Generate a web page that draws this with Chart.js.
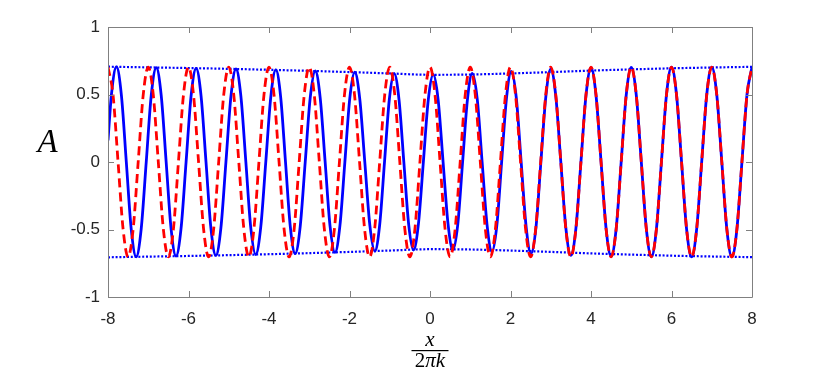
<!DOCTYPE html>
<html>
<head>
<meta charset="utf-8">
<script src="https://cdn.jsdelivr.net/npm/chart.js@4.4.1/dist/chart.umd.min.js"></script>
<style>
  html, body { margin: 0; padding: 0; background: #ffffff; }
  #c { display: block; }
</style>
</head>
<body>
<canvas id="c" width="830" height="369"></canvas>
<script>
// ---- data ----
// x tick labels and y tick labels
const xTicks = [-8, -6, -4, -2, 0, 2, 4, 6, 8];
const yTicks = [-1, -0.5, 0, 0.5, 1];

// blue solid wave: sample points (extrema, zero crossings, half-way points)
const blueX = [
  -8, -7.915, -7.79,
  -7.668, -7.545, -7.423, -7.30,
  -7.175, -7.05, -6.925, -6.80,
  -6.678, -6.555, -6.433, -6.31,
  -6.185, -6.06, -5.935, -5.81,
  -5.688, -5.565, -5.443, -5.32,
  -5.195, -5.07, -4.945, -4.82,
  -4.698, -4.575, -4.453, -4.33,
  -4.205, -4.08, -3.955, -3.83,
  -3.71, -3.59, -3.47, -3.35,
  -3.225, -3.10, -2.975, -2.85,
  -2.728, -2.605, -2.483, -2.36,
  -2.238, -2.115, -1.993, -1.87,
  -1.745, -1.62, -1.495, -1.37,
  -1.25, -1.13, -1.01, -0.89,
  -0.77, -0.65, -0.53, -0.41,
  -0.288, -0.165, -0.043, 0.08,
  0.203, 0.325, 0.448, 0.57,
  0.69, 0.81, 0.93, 1.05,
  1.173, 1.295, 1.418, 1.54,
  1.66, 1.78, 1.90, 2.02,
  2.143, 2.265, 2.388, 2.51,
  2.633, 2.755, 2.878, 3.00,
  3.125, 3.25, 3.375, 3.5,
  3.625, 3.75, 3.875, 4.0,
  4.125, 4.25, 4.375, 4.5,
  4.625, 4.75, 4.875, 5.0,
  5.125, 5.25, 5.375, 5.5,
  5.625, 5.75, 5.875, 6.0,
  6.125, 6.25, 6.375, 6.5,
  6.625, 6.75, 6.875, 7.0,
  7.125, 7.25, 7.375, 7.5,
  7.625, 7.75, 7.875, 8.0
];
const blueY = [
  0.16, 0.498, 0.704,
  0.497, 0, -0.497, -0.702,
  -0.495, 0, 0.495, 0.699,
  0.493, 0, -0.493, -0.697,
  -0.492, 0, 0.492, 0.694,
  0.490, 0, -0.490, -0.692,
  -0.488, 0, 0.488, 0.689,
  0.486, 0, -0.486, -0.685,
  -0.483, 0, 0.483, 0.682,
  0.481, 0, -0.481, -0.678,
  -0.478, 0, 0.478, 0.674,
  0.475, 0, -0.475, -0.670,
  -0.472, 0, 0.472, 0.665,
  0.468, 0, -0.468, -0.660,
  -0.465, 0, 0.465, 0.655,
  0.462, 0, -0.462, -0.652,
  -0.460, 0, 0.460, 0.648,
  0.459, 0, -0.459, -0.651,
  -0.462, 0, 0.462, 0.656,
  0.467, 0, -0.467, -0.664,
  -0.472, 0, 0.472, 0.672,
  0.478, 0, -0.478, -0.680,
  -0.484, 0, 0.484, 0.688,
  0.488, 0, -0.488, -0.692,
  -0.491, 0, 0.491, 0.697,
  0.493, 0, -0.493, -0.699,
  -0.495, 0, 0.495, 0.700,
  0.496, 0, -0.496, -0.702,
  -0.497, 0, 0.497, 0.703,
  0.497, 0, -0.497, -0.703,
  -0.497, 0, 0.497, 0.703,
  0.497, 0, -0.497, -0.703,
  -0.497, 0, 0.497, 0.703
];

// red dashed wave: sample points every eighth of a period
const redX = [
  -8, -7.875, -7.75, -7.625, -7.5, -7.375, -7.25, -7.125,
  -7, -6.875, -6.75, -6.625, -6.5, -6.375, -6.25, -6.125,
  -6, -5.875, -5.75, -5.625, -5.5, -5.375, -5.25, -5.125,
  -5, -4.875, -4.75, -4.625, -4.5, -4.375, -4.25, -4.125,
  -4, -3.875, -3.75, -3.625, -3.5, -3.375, -3.25, -3.125,
  -3, -2.875, -2.75, -2.625, -2.5, -2.375, -2.25, -2.125,
  -2, -1.875, -1.75, -1.625, -1.5, -1.375, -1.25, -1.125,
  -1, -0.875, -0.75, -0.625, -0.5, -0.375, -0.25, -0.125,
  0, 0.125, 0.25, 0.375, 0.5, 0.625, 0.75, 0.875,
  1, 1.125, 1.25, 1.375, 1.5, 1.625, 1.75, 1.875,
  2, 2.125, 2.25, 2.375, 2.5, 2.625, 2.75, 2.875,
  3, 3.125, 3.25, 3.375, 3.5, 3.625, 3.75, 3.875,
  4, 4.125, 4.25, 4.375, 4.5, 4.625, 4.75, 4.875,
  5, 5.125, 5.25, 5.375, 5.5, 5.625, 5.75, 5.875,
  6, 6.125, 6.25, 6.375, 6.5, 6.625, 6.75, 6.875,
  7, 7.125, 7.25, 7.375, 7.5, 7.625, 7.75, 7.875,
  8
];
const redY = [
  0.703, 0.497, 0, -0.497, -0.703, -0.497, 0, 0.497,
  0.703, 0.497, 0, -0.497, -0.703, -0.497, 0, 0.497,
  0.703, 0.497, 0, -0.497, -0.703, -0.497, 0, 0.497,
  0.703, 0.497, 0, -0.497, -0.703, -0.497, 0, 0.497,
  0.703, 0.497, 0, -0.497, -0.703, -0.497, 0, 0.497,
  0.703, 0.497, 0, -0.497, -0.703, -0.497, 0, 0.497,
  0.703, 0.497, 0, -0.497, -0.703, -0.497, 0, 0.497,
  0.703, 0.497, 0, -0.497, -0.703, -0.497, 0, 0.497,
  0.703, 0.497, 0, -0.497, -0.703, -0.497, 0, 0.497,
  0.703, 0.497, 0, -0.497, -0.703, -0.497, 0, 0.497,
  0.703, 0.497, 0, -0.497, -0.703, -0.497, 0, 0.497,
  0.703, 0.497, 0, -0.497, -0.703, -0.497, 0, 0.497,
  0.703, 0.497, 0, -0.497, -0.703, -0.497, 0, 0.497,
  0.703, 0.497, 0, -0.497, -0.703, -0.497, 0, 0.497,
  0.703, 0.497, 0, -0.497, -0.703, -0.497, 0, 0.497,
  0.703, 0.497, 0, -0.497, -0.703, -0.497, 0, 0.497,
  0.703
];

// blue dotted envelope
const envX = [-8, -7, -6, -5, -4, -3, -2, -1, 0, 1, 2, 3, 4, 5, 6, 7, 8];
const envTop = [0.706, 0.701, 0.696, 0.690, 0.683, 0.675, 0.666, 0.656, 0.646, 0.648, 0.656, 0.666, 0.677, 0.686, 0.694, 0.700, 0.705];
const envBottom = [-0.706, -0.701, -0.696, -0.690, -0.683, -0.675, -0.666, -0.656, -0.646, -0.648, -0.656, -0.666, -0.677, -0.686, -0.694, -0.700, -0.705];

// ---- build chart ----
const pts = (xs, ys) => xs.map((x, i) => ({ x: x, y: ys[i] }));

const AX_COLOR = '#808080';
const TXT_COLOR = '#262626';

const framePlugin = {
  id: 'frame',
  afterDatasetsDraw(chart) {
    const ctx = chart.ctx;
    const a = chart.chartArea;
    const xs = chart.scales.x, ys = chart.scales.y;
    ctx.save();
    ctx.strokeStyle = AX_COLOR;
    ctx.lineWidth = 1;
    ctx.beginPath();
    ctx.rect(Math.round(a.left) + 0.5, Math.round(a.top) + 0.5,
             Math.round(a.right) - Math.round(a.left), Math.round(a.bottom) - Math.round(a.top));
    ctx.stroke();
    const tl = 6;
    ctx.beginPath();
    xTicks.forEach(v => {
      const px = Math.round(xs.getPixelForValue(v)) + 0.5;
      ctx.moveTo(px, a.bottom); ctx.lineTo(px, a.bottom - tl);
      ctx.moveTo(px, a.top); ctx.lineTo(px, a.top + tl);
    });
    yTicks.forEach(v => {
      const py = Math.round(ys.getPixelForValue(v)) + 0.5;
      ctx.moveTo(a.left, py); ctx.lineTo(a.left + tl, py);
      ctx.moveTo(a.right, py); ctx.lineTo(a.right - tl, py);
    });
    ctx.stroke();
    ctx.restore();
  },
  afterDraw(chart) {
    const ctx = chart.ctx;
    const xs = chart.scales.x;
    ctx.save();
    ctx.fillStyle = '#000000';
    // y label "A"
    ctx.font = 'italic 33px "Liberation Serif"';
    ctx.textAlign = 'center';
    ctx.textBaseline = 'alphabetic';
    ctx.fillText('A', 47.5, 151.5);
    // x label: fraction x / (2 pi k)
    const cx = xs.getPixelForValue(0);
    ctx.font = 'italic 21px "Liberation Serif"';
    ctx.fillText('x', cx, 345.5);
    ctx.fillRect(cx - 18.5, 350, 37, 1.2);
    ctx.textAlign = 'left';
    ctx.font = '21px "Liberation Serif"';
    const w2 = ctx.measureText('2').width;
    ctx.font = 'italic 21px "Liberation Serif"';
    const wr = ctx.measureText('\u03C0k').width;
    const start = cx - (w2 + wr) / 2;
    ctx.font = '21px "Liberation Serif"';
    ctx.fillText('2', start, 366.5);
    ctx.font = 'italic 21px "Liberation Serif"';
    ctx.fillText('\u03C0k', start + w2, 366.5);
    ctx.restore();
  }
};

new Chart(document.getElementById('c'), {
  type: 'line',
  data: {
    datasets: [
      {
        label: 'red',
        data: pts(redX, redY),
        borderColor: '#ff0000',
        borderWidth: 2.8,
        borderDash: [9, 5],
        cubicInterpolationMode: 'monotone',
        clip: 0
      },
      {
        label: 'blue',
        data: pts(blueX, blueY),
        borderColor: '#0000ff',
        borderWidth: 2.8,
        cubicInterpolationMode: 'monotone',
        clip: 0
      },
      {
        label: 'envTop',
        data: pts(envX, envTop),
        borderColor: '#0000ff',
        borderWidth: 2.2,
        borderDash: [2, 1.8],
        cubicInterpolationMode: 'monotone',
        clip: 0
      },
      {
        label: 'envBottom',
        data: pts(envX, envBottom),
        borderColor: '#0000ff',
        borderWidth: 2.2,
        borderDash: [2, 1.8],
        cubicInterpolationMode: 'monotone',
        clip: 0
      }
    ]
  },
  options: {
    responsive: false,
    animation: false,
    devicePixelRatio: 1,
    parsing: true,
    layout: { padding: { left: 0, right: 78, top: 27, bottom: 0 } },
    elements: { point: { radius: 0 }, line: { fill: false } },
    plugins: { legend: { display: false }, tooltip: { enabled: false } },
    scales: {
      x: {
        type: 'linear',
        min: -8, max: 8,
        afterFit: s => { s.height = 72; },
        afterBuildTicks: s => { s.ticks = xTicks.map(v => ({ value: v })); },
        ticks: {
          font: { family: 'Liberation Sans', size: 17 },
          color: TXT_COLOR,
          padding: 12.5,
          maxRotation: 0,
          callback: v => String(v)
        },
        grid: { display: false, drawTicks: false },
        border: { display: false }
      },
      y: {
        type: 'linear',
        min: -1, max: 1,
        afterFit: s => { s.width = 108; },
        afterBuildTicks: s => { s.ticks = yTicks.map(v => ({ value: v })); },
        ticks: {
          font: { family: 'Liberation Sans', size: 17 },
          color: TXT_COLOR,
          padding: 8,
          callback: v => String(v)
        },
        grid: { display: false, drawTicks: false },
        border: { display: false }
      }
    }
  },
  plugins: [framePlugin]
});
</script>
</body>
</html>
